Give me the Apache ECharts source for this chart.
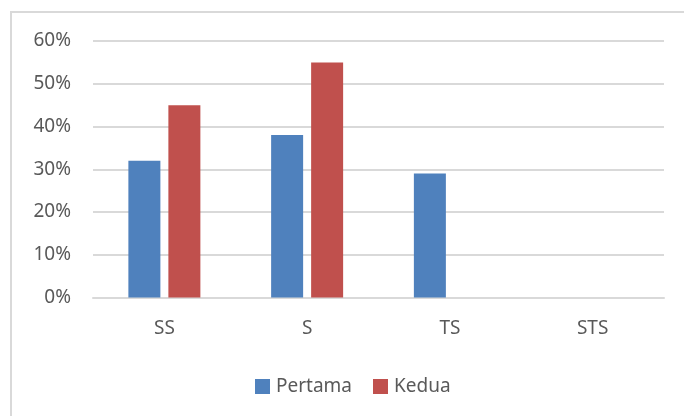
<!DOCTYPE html>
<html>
<head>
<meta charset="utf-8">
<script src="https://cdn.jsdelivr.net/npm/echarts@6/dist/echarts.min.js"></script>
<style>
  html, body { margin: 0; padding: 0; background: #fff; }
  #chart { width: 684px; height: 416px; }
</style>
</head>
<body>
<div id="chart"></div>
<script>
// Response categories and survey shares (percent)
const categories = ['SS', 'S', 'TS', 'STS'];
const pertama = [32, 38, 29, 0];
const kedua = [45, 55, 0, 0];
const seriesNames = ['Pertama', 'Kedua'];

const FONT = '"Noto Sans", "Open Sans", sans-serif';
const TEXT = '#595959';
const SIZE = 19;

const chart = echarts.init(document.getElementById('chart'));
chart.setOption({
  animation: false,
  backgroundColor: '#fff',
  graphic: [{
    type: 'rect',
    shape: { x: 11, y: 12, width: 700, height: 420 },
    style: { fill: 'none', stroke: '#D9D9D9', lineWidth: 2 },
    silent: true
  }],
  grid: { left: 93, right: 20, top: 41, bottom: 118.5 },
  legend: {
    data: seriesNames,
    left: 250,
    top: 372,
    icon: 'rect',
    itemWidth: 15,
    itemHeight: 15,
    itemGap: 21,
    textStyle: { color: TEXT, fontSize: SIZE, fontFamily: FONT, padding: [0, 0, 0, 1] }
  },
  xAxis: {
    type: 'category',
    data: categories,
    axisLine: { lineStyle: { color: '#D9D9D9', width: 2 } },
    axisTick: { show: false },
    axisLabel: { color: TEXT, fontSize: SIZE, fontFamily: FONT, margin: 22 }
  },
  yAxis: {
    type: 'value',
    min: 0,
    max: 60,
    interval: 10,
    axisLine: { show: false },
    axisTick: { show: false },
    splitLine: { lineStyle: { color: '#D9D9D9', width: 2 } },
    axisLabel: {
      color: TEXT, fontSize: SIZE, fontFamily: FONT, margin: 22,
      formatter: v => v + '%'
    }
  },
  series: [
    {
      name: seriesNames[0],
      type: 'bar',
      data: pertama,
      barWidth: 32,
      barGap: '25%',
      itemStyle: { color: '#4F81BD' }
    },
    {
      name: seriesNames[1],
      type: 'bar',
      data: kedua,
      barWidth: 32,
      itemStyle: { color: '#C0504D' }
    }
  ]
});
</script>
</body>
</html>
